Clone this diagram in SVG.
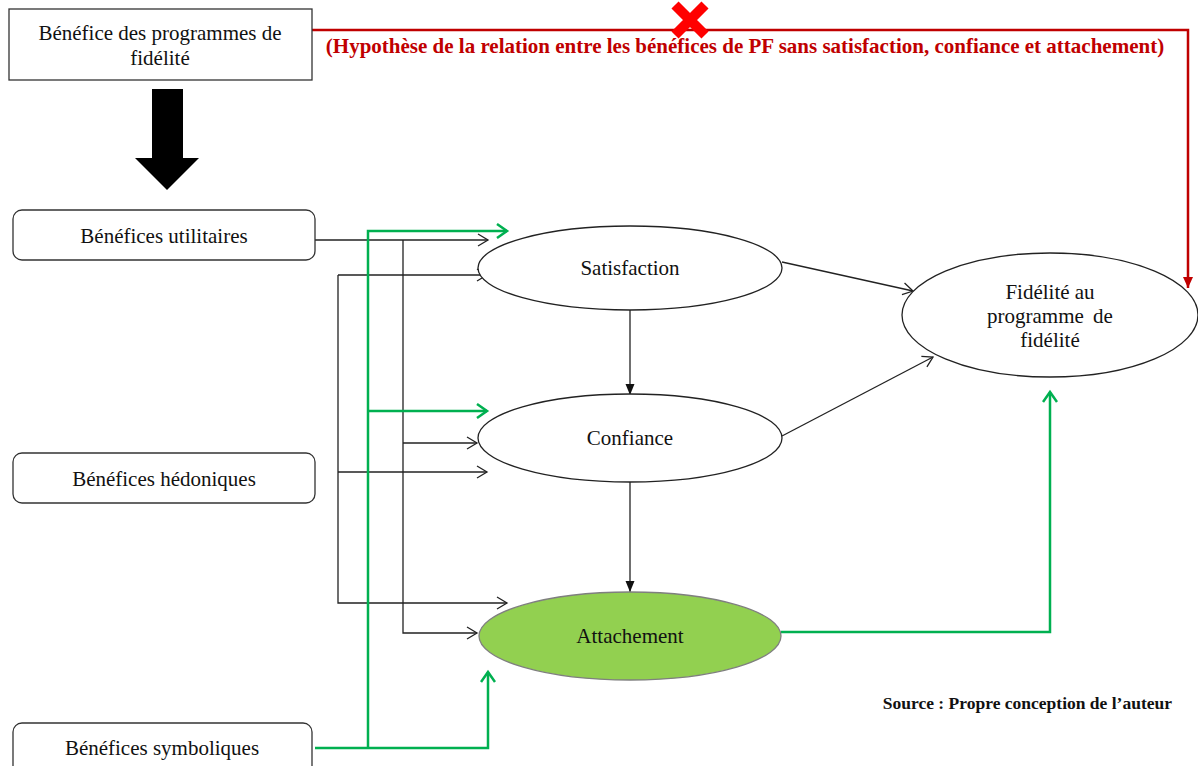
<svg xmlns="http://www.w3.org/2000/svg" width="1198" height="766" viewBox="0 0 1198 766">
<defs>
<style>
.t{font-family:"Liberation Serif","Times New Roman",serif;font-size:21px;fill:#111;text-anchor:middle}
.box{fill:#fff;stroke:#333;stroke-width:1.3}
.ell{fill:#fff;stroke:#222;stroke-width:1.3}
.blk{fill:none;stroke:#222;stroke-width:1.3}
.grn{fill:none;stroke:#00B050;stroke-width:2.5}
.red{fill:none;stroke:#C00000;stroke-width:2.5}
</style>
<marker id="oa" markerWidth="14" markerHeight="14" refX="12" refY="7" orient="auto" markerUnits="userSpaceOnUse"><path d="M2,1 L12,7 L2,13" fill="none" stroke="#222" stroke-width="1.3"/></marker>
<marker id="fa" markerWidth="12" markerHeight="12" refX="11" refY="6" orient="auto" markerUnits="userSpaceOnUse"><path d="M0,1.5 L11,6 L0,10.5 Z" fill="#111"/></marker>
<marker id="ga" markerWidth="16" markerHeight="16" refX="13" refY="8" orient="auto" markerUnits="userSpaceOnUse"><path d="M3,1 L13,8 L3,15" fill="none" stroke="#00B050" stroke-width="2.5"/></marker>
<marker id="ra" markerWidth="12" markerHeight="12" refX="11" refY="6" orient="auto" markerUnits="userSpaceOnUse"><path d="M0,1 L11,6 L0,11 Z" fill="#C00000"/></marker>
</defs>
<rect width="1198" height="766" fill="#fff"/>

<g id="connectors">
<path class="red" d="M312,30 H1188 V288" marker-end="url(#ra)"/>
<path d="M152,89 H183 V158 H199 L167,190 L135,158 H152 Z" fill="#000"/>
<path class="blk" d="M315,240 H488" marker-end="url(#oa)"/>
<path class="blk" d="M403,240 V633 H477" marker-end="url(#oa)"/>
<path class="blk" d="M403,443 H477" marker-end="url(#oa)"/>
<path class="blk" d="M338,275 H487" marker-end="url(#oa)"/>
<path class="blk" d="M338,275 V603 H507" marker-end="url(#oa)"/>
<path class="blk" d="M338,472 H487" marker-end="url(#oa)"/>
<path class="blk" d="M630,310 V395" marker-end="url(#fa)"/>
<path class="blk" d="M630,482 V592" marker-end="url(#fa)"/>
<path class="blk" d="M782,262 L913,291" marker-end="url(#oa)"/>
<path class="blk" d="M782,436 L933,357" marker-end="url(#oa)"/>
<path class="grn" d="M315,748 H488 V672" marker-end="url(#ga)"/>
<path class="grn" d="M368,748 V231 H507" marker-end="url(#ga)"/>
<path class="grn" d="M368,411 H487" marker-end="url(#ga)"/>
<path class="grn" d="M781,632 H1050 V392" marker-end="url(#ga)"/>
</g>

<g id="red-cross">
<path d="M675,5 L705,35 M705,5 L675,35" stroke="#FF0000" stroke-width="10"/>
</g>
<text x="745" y="53" font-family="Liberation Serif,serif" font-size="21" font-weight="bold" fill="#C00000" text-anchor="middle">(Hypothèse de la relation entre les bénéfices de PF sans satisfaction, confiance et attachement)</text>

<g id="n-benefice">
<rect class="box" x="9" y="9" width="303" height="71"/>
<text class="t" x="160" y="40">Bénéfice des programmes de</text>
<text class="t" x="160" y="65">fidélité</text>
</g>
<g id="n-utilitaires">
<rect class="box" x="13" y="210" width="302" height="50" rx="9"/>
<text class="t" x="164" y="243">Bénéfices utilitaires</text>
</g>
<g id="n-hedoniques">
<rect class="box" x="13" y="453" width="302" height="50" rx="9"/>
<text class="t" x="164" y="486">Bénéfices hédoniques</text>
</g>
<g id="n-symboliques">
<rect class="box" x="13" y="723" width="299" height="55" rx="9"/>
<text class="t" x="162" y="755">Bénéfices symboliques</text>
</g>
<g id="n-satisfaction">
<ellipse class="ell" cx="630" cy="268" rx="152" ry="42"/>
<text class="t" x="630" y="275">Satisfaction</text>
</g>
<g id="n-confiance">
<ellipse class="ell" cx="630" cy="438" rx="152" ry="44"/>
<text class="t" x="630" y="445">Confiance</text>
</g>
<g id="n-attachement">
<ellipse cx="630" cy="636" rx="151" ry="44" fill="#92D050" stroke="#7f7f7f" stroke-width="1.3"/>
<text class="t" x="630" y="643">Attachement</text>
</g>
<g id="n-fidelite">
<ellipse class="ell" cx="1050" cy="315" rx="148" ry="62"/>
<text class="t" x="1050" y="299">Fidélité au</text>
<text class="t" x="1050" y="323" word-spacing="4">programme de</text>
<text class="t" x="1050" y="347">fidélité</text>
</g>
<text x="1172" y="709" font-family="Liberation Serif,serif" font-size="17.5" font-weight="bold" fill="#111" text-anchor="end">Source : Propre conception de l’auteur</text>
</svg>
